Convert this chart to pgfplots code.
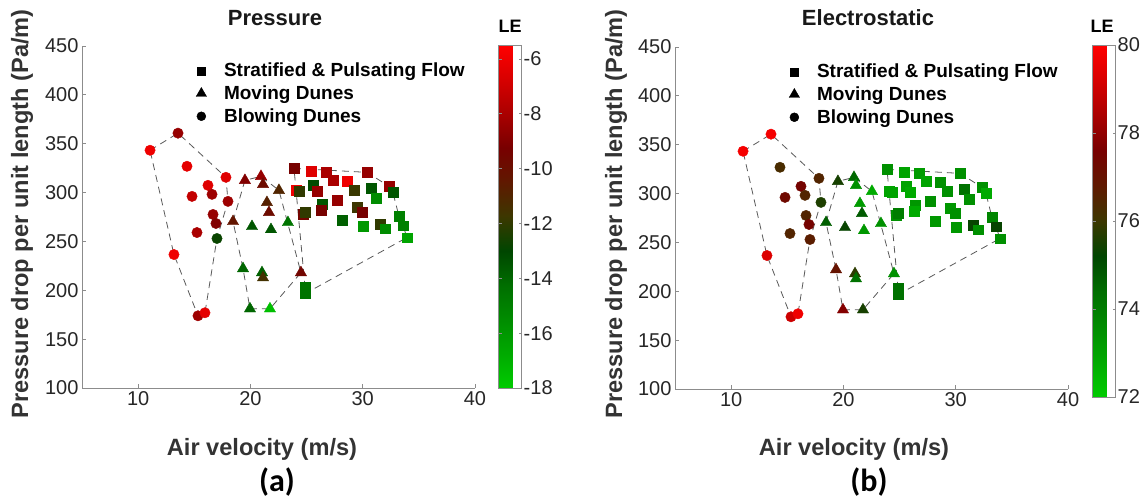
\documentclass[border=0pt]{standalone}
\usepackage{pgfplots}
\pgfplotsset{compat=1.18}
\usepackage{pgfplotstable}
\usepackage{fontspec}
\setmainfont{Liberation Sans}
\newfontfamily\calibri{Carlito}

\pgfplotsset{
 colormap={lered}{rgb255=(0,204,0) rgb255=(0,170,0) rgb255=(0,140,0) rgb255=(0,110,0) rgb255=(0,70,0) rgb255=(60,55,0) rgb255=(95,25,0) rgb255=(120,0,0) rgb255=(170,0,0) rgb255=(215,0,0) rgb255=(255,0,0)},
 myaxis/.style={
   scale only axis, width=393pt, height=342pt,
   xmin=5, xmax=40, ymin=100, ymax=450,
   xtick={10,20,30,40}, ytick={100,150,...,450},
   axis x line*=bottom, axis y line*=left,
   x axis line style={-}, y axis line style={-},
   tick align=inside, major tick length=4pt,
   axis line style={draw=black!45, line width=0.8pt},
   every tick/.style={draw=black!45, line width=0.8pt},
   tick label style={font=\fontsize{20}{24}\selectfont, text=black!85},
   /pgf/number format/assume math mode=true,
   colormap name=lered,
   clip=false,
   legend style={at={(axis description cs:0.29,0.955)}, anchor=north west, draw=none, fill=none,
     font=\fontsize{19}{22}\selectfont\bfseries, row sep=4.5pt, inner sep=0pt, nodes={inner sep=1.5pt},
     /tikz/every odd column/.style={column sep=16pt}},
   legend cell align=left,
   legend image code/.code={\draw[##1] plot coordinates {(0pt,0pt)};},
 },
 cbstyle/.style={
   scale only axis, width=23pt,
   at={(parent axis.north east)}, anchor=north west,
   axis line style={draw=black!45, line width=0.6pt},
   tick align=inside, major tick length=3pt,
   every tick/.style={draw=black!45},
   yticklabel style={font=\fontsize{20}{24}\selectfont, text=black!85, inner sep=2pt},
   /pgf/number format/assume math mode=true,
 },
 dline/.style={forget plot, draw=black!65, line width=0.8pt, dash pattern=on 7pt off 5pt},
 mk/.style={forget plot, scatter, only marks, point meta=explicit,
   scatter/use mapped color={draw=mapped color, fill=mapped color}},
}

% x y LE(pressure) LE(electrostatic)
\pgfplotstableread{
x y L R
11.06 343.3 -6.0 79.8
13.55 360.8 -8.5 79.8
14.35 326.9 -6.3 76.3
17.82 315.6 -6.5 76.5
16.22 307.4 -6.5 77.5
14.80 296.1 -7.3 77.3
16.58 298.2 -8.3 76.5
18.00 291.0 -8.3 75.6
16.67 277.6 -8.5 76.5
16.93 268.4 -9.0 77.5
15.24 259.1 -8.0 76.5
17.02 253.0 -12.8 76.7
13.19 236.6 -6.0 79.3
15.33 173.9 -8.3 79.0
15.95 177.0 -6.3 79.7
}\circles

\pgfplotstableread{
x y L R
19.51 312.5 -9.0 75.5
20.94 316.6 -8.5 74.5
21.12 308.4 -9.8 73.5
22.54 302.3 -11.0 72.8
21.47 289.9 -10.8 73.2
21.65 279.7 -9.8 74.8
18.45 270.4 -10.3 74.7
20.14 265.3 -13.5 75.3
21.83 262.2 -13.5 73.3
23.34 269.4 -14.5 73.5
19.34 222.2 -14.0 77.0
21.03 218.1 -13.8 75.8
21.12 212.9 -11.5 74.3
24.50 218.1 -9.5 73.5
19.96 181.1 -14.0 77.8
21.74 181.1 -17.5 75.5
}\triangles

\pgfplotstableread{
x y L R
23.88 324.8 -9.3 73.5
25.39 321.8 -6.5 73.0
26.73 320.7 -8.0 73.2
27.35 312.5 -8.0 73.0
28.60 311.5 -6.0 73.5
30.38 320.7 -8.5 73.5
32.34 306.4 -8.5 73.5
32.69 300.2 -13.5 72.8
24.06 302.3 -6.0 73.0
24.32 301.2 -12.0 73.0
25.57 307.4 -13.2 73.0
25.93 301.2 -8.5 72.8
29.22 302.3 -11.8 73.5
30.73 304.3 -13.5 74.3
31.18 294.0 -15.5 73.5
26.37 287.9 -13.5 73.3
26.28 281.7 -9.3 72.8
27.71 292.0 -8.5 73.5
29.49 284.8 -11.7 73.3
29.93 279.7 -9.3 73.5
24.68 277.6 -9.5 73.5
24.86 279.7 -12.0 74.0
28.15 271.5 -13.8 73.3
30.02 265.3 -16.0 73.3
31.54 267.4 -12.0 75.3
31.98 263.2 -15.5 73.5
33.23 275.6 -15.0 73.8
33.58 266.3 -15.0 75.3
33.94 254.0 -16.5 73.5
24.86 203.7 -14.5 74.3
24.86 196.5 -14.5 74.3
}\squares

\newcommand{\hulls}{%
 \addplot[dline] coordinates {(11.06,343.3) (13.55,360.8) (17.82,315.6) (18.00,291.0) (17.02,253.0) (15.95,177.0) (15.33,173.9) (13.19,236.6) (11.06,343.3)};
 \addplot[dline] coordinates {(18.45,270.4) (19.51,312.5) (20.94,316.6) (22.54,302.3) (24.50,218.1) (21.74,181.1) (19.96,181.1) (19.34,222.2) (18.45,270.4)};
 \addplot[dline] coordinates {(23.88,324.8) (30.38,320.7) (32.34,306.4) (32.69,300.2) (33.23,275.6) (33.58,266.3) (33.94,254.0) (24.86,196.5) (24.86,203.7) (23.88,324.8)};
}
\newcommand{\legendimgs}{%
 \addlegendimage{only marks, mark=square*, mark size=4pt, black}
 \addlegendentry{Stratified \& Pulsating Flow}
 \addlegendimage{only marks, mark=triangle*, mark size=6pt, black}
 \addlegendentry{Moving Dunes}
 \addlegendimage{only marks, mark=*, mark size=4.5pt, black}
 \addlegendentry{Blowing Dunes}
}

\begin{document}
\begin{tikzpicture}
\useasboundingbox (0,0) rectangle (1143pt,-498pt);

\begin{axis}[myaxis, at={(82pt,-388pt)}, anchor=south west,
  point meta min=-18, point meta max=-5.5,
  colorbar, colorbar style={cbstyle, height=343pt, xshift=15pt, yshift=1pt, ytick={-18,-16,-14,-12,-10,-8,-6}}]
 \legendimgs
 \hulls
 \addplot[mk, mark=square*, mark size=4.8pt] table[x=x, y=y, meta=L] {\squares};
 \addplot[mk, mark=triangle*, mark size=6.5pt] table[x=x, y=y, meta=L] {\triangles};
 \addplot[mk, mark=*, mark size=5.2pt] table[x=x, y=y, meta=L] {\circles};
\end{axis}

\begin{axis}[myaxis, at={(675pt,-389pt)}, anchor=south west,
  point meta min=72, point meta max=80,
  colorbar, colorbar style={cbstyle, height=352pt, xshift=16pt, yshift=2pt, ytick={72,74,76,78,80}}]
 \legendimgs
 \hulls
 \addplot[mk, mark=square*, mark size=4.8pt] table[x=x, y=y, meta=R] {\squares};
 \addplot[mk, mark=triangle*, mark size=6.5pt] table[x=x, y=y, meta=R] {\triangles};
 \addplot[mk, mark=*, mark size=5.2pt] table[x=x, y=y, meta=R] {\circles};
\end{axis}

\node[font=\fontsize{22}{26}\selectfont\bfseries, text=black!90] at (275pt,-18pt) {Pressure};
\node[font=\fontsize{22}{26}\selectfont\bfseries, text=black!90] at (868pt,-18pt) {Electrostatic};
\node[font=\fontsize{23.6}{28}\selectfont\bfseries, text=black!80] at (262pt,-449pt) {Air velocity (m/s)};
\node[font=\fontsize{23.6}{28}\selectfont\bfseries, text=black!80] at (854pt,-449pt) {Air velocity (m/s)};
\node[font=\fontsize{23.6}{28}\selectfont\bfseries, text=black!80, rotate=90] at (22pt,-214pt) {Pressure drop per unit length (Pa/m)};
\node[font=\fontsize{23.6}{28}\selectfont\bfseries, text=black!80, rotate=90] at (616pt,-214pt) {Pressure drop per unit length (Pa/m)};
\node[font=\fontsize{18}{22}\selectfont\bfseries] at (510pt,-26pt) {LE};
\node[font=\fontsize{18}{22}\selectfont\bfseries] at (1102pt,-26pt) {LE};
\node[font=\fontsize{32}{38}\selectfont\calibri\bfseries] at (277pt,-482pt) {(a)};
\node[font=\fontsize{32}{38}\selectfont\calibri\bfseries] at (869pt,-482pt) {(b)};
\end{tikzpicture}
\end{document}
